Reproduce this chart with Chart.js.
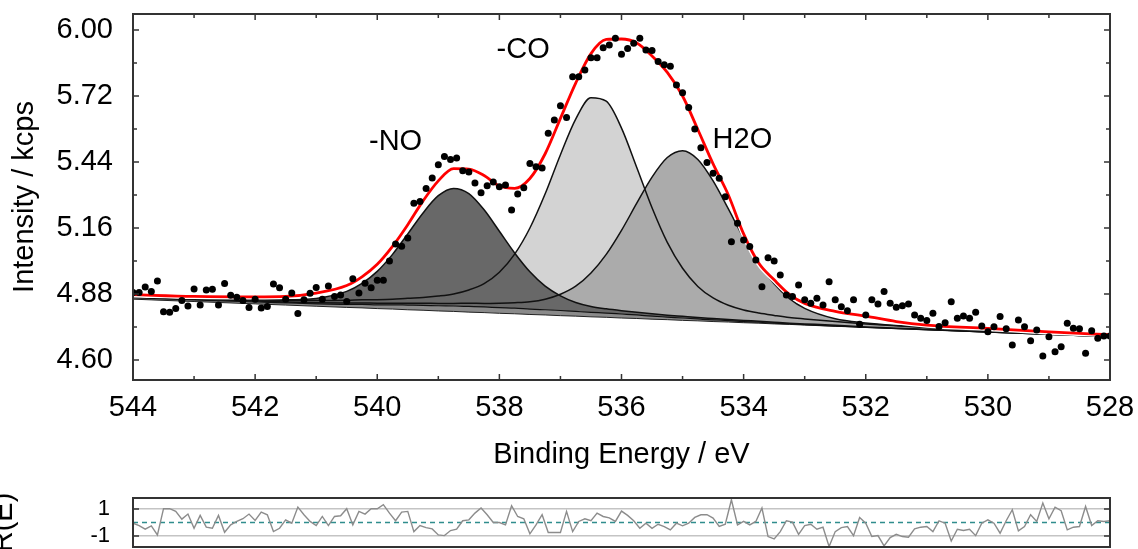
<!DOCTYPE html>
<html>
<head>
<meta charset="utf-8">
<script src="https://cdn.jsdelivr.net/npm/chart.js@4.4.1/dist/chart.umd.min.js"></script>
<style>
  html, body { margin: 0; padding: 0; background: #fff; }
  #wrap { position: relative; width: 1138px; height: 549px; overflow: hidden; }
  #main { position: absolute; left: 0; top: 0; }
  #resid { position: absolute; left: 0; top: 480px; }
</style>
</head>
<body>
<div id="wrap">
  <canvas id="main" width="1138" height="480"></canvas>
  <canvas id="resid" width="1138" height="69"></canvas>
</div>
<script>
const FONT = "'Liberation Sans', Arial, Helvetica, sans-serif";

// measured points (kcps), one every 0.1 eV
const dataEnergy = [
  544.0, 543.9, 543.8, 543.7, 543.6, 543.5, 543.4, 543.3, 543.2, 543.1,
  543.0, 542.9, 542.8, 542.7, 542.6, 542.5, 542.4, 542.3, 542.2, 542.1,
  542.0, 541.9, 541.8, 541.7, 541.6, 541.5, 541.4, 541.3, 541.2, 541.1,
  541.0, 540.9, 540.8, 540.7, 540.6, 540.5, 540.4, 540.3, 540.2, 540.1,
  540.0, 539.9, 539.8, 539.7, 539.6, 539.5, 539.4, 539.3, 539.2, 539.1,
  539.0, 538.9, 538.8, 538.7, 538.6, 538.5, 538.4, 538.3, 538.2, 538.1,
  538.0, 537.9, 537.8, 537.7, 537.6, 537.5, 537.4, 537.3, 537.2, 537.1,
  537.0, 536.9, 536.8, 536.7, 536.6, 536.5, 536.4, 536.3, 536.2, 536.1,
  536.0, 535.9, 535.8, 535.7, 535.6, 535.5, 535.4, 535.3, 535.2, 535.1,
  535.0, 534.9, 534.8, 534.7, 534.6, 534.5, 534.4, 534.3, 534.2, 534.1,
  534.0, 533.9, 533.8, 533.7, 533.6, 533.5, 533.4, 533.3, 533.2, 533.1,
  533.0, 532.9, 532.8, 532.7, 532.6, 532.5, 532.4, 532.3, 532.2, 532.1,
  532.0, 531.9, 531.8, 531.7, 531.6, 531.5, 531.4, 531.3, 531.2, 531.1,
  531.0, 530.9, 530.8, 530.7, 530.6, 530.5, 530.4, 530.3, 530.2, 530.1,
  530.0, 529.9, 529.8, 529.7, 529.6, 529.5, 529.4, 529.3, 529.2, 529.1,
  529.0, 528.9, 528.8, 528.7, 528.6, 528.5, 528.4, 528.3, 528.2, 528.1,
  528.0
];
const dataIntensity = [
  4.886, 4.886, 4.910, 4.891, 4.935, 4.805, 4.802, 4.818, 4.852, 4.829,
  4.901, 4.833, 4.897, 4.900, 4.833, 4.924, 4.875, 4.866, 4.852, 4.823,
  4.858, 4.820, 4.827, 4.922, 4.906, 4.858, 4.884, 4.797, 4.855, 4.883,
  4.908, 4.858, 4.914, 4.869, 4.876, 4.848, 4.945, 4.884, 4.925, 4.906,
  4.938, 4.938, 5.020, 5.092, 5.082, 5.118, 5.265, 5.272, 5.328, 5.372,
  5.428, 5.463, 5.451, 5.457, 5.403, 5.398, 5.351, 5.310, 5.339, 5.355,
  5.335, 5.342, 5.236, 5.304, 5.331, 5.434, 5.420, 5.415, 5.562, 5.618,
  5.679, 5.629, 5.802, 5.802, 5.830, 5.882, 5.882, 5.925, 5.936, 5.965,
  5.897, 5.922, 5.944, 5.965, 5.915, 5.913, 5.866, 5.853, 5.846, 5.767,
  5.734, 5.671, 5.580, 5.501, 5.438, 5.392, 5.371, 5.293, 5.102, 5.180,
  5.109, 5.081, 5.024, 4.911, 5.034, 5.020, 4.961, 4.876, 4.869, 4.918,
  4.855, 4.841, 4.862, 4.833, 4.932, 4.855, 4.826, 4.809, 4.855, 4.752,
  4.791, 4.855, 4.838, 4.890, 4.841, 4.824, 4.830, 4.838, 4.791, 4.777,
  4.767, 4.798, 4.742, 4.758, 4.847, 4.777, 4.787, 4.777, 4.802, 4.744,
  4.720, 4.741, 4.784, 4.732, 4.664, 4.770, 4.741, 4.682, 4.727, 4.617,
  4.699, 4.635, 4.656, 4.756, 4.735, 4.732, 4.628, 4.724, 4.692, 4.702,
  4.702
];
const residual = [
  -0.05, -0.23, -0.50, -0.25, -0.93, 1.03, 1.03, 0.83, 0.25, 0.63,
  -0.43, 0.53, -0.35, -0.43, 0.53, -0.73, -0.18, 0.08, 0.28, 0.63,
  0.15, 0.78, 0.58, -0.68, -0.43, 0.20, -0.05, 1.15, 0.58, 0.08,
  -0.23, 0.45, -0.23, 0.45, 0.50, 1.03, -0.18, 0.83, 0.63, 1.03,
  1.03, 1.33, 0.70, 0.13, 0.78, 0.83, -0.68, -0.23, -0.38, -0.48,
  -0.93, -0.98, -0.60, -0.50, 0.13, 0.20, 0.70, 1.08, 0.58, 0.00,
  0.00, -0.18, 1.25, 0.45, 0.28, -0.85, -0.18, 0.58, -0.75, -0.75,
  -0.75, 0.83, -0.68, 0.08, 0.28, 0.13, 0.70, 0.45, 0.35, 0.08,
  0.85, 0.53, 0.13, -0.43, -0.05, -0.43, -0.13, -0.30, -0.55, -0.05,
  -0.25, -0.05, 0.38, 0.58, 0.58, 0.33, -0.30, -0.13, 1.70, -0.18,
  0.08, -0.18, 0.08, 1.08, -1.05, -1.23, -0.68, 0.13, 0.03, -0.88,
  -0.23, -0.13, -0.50, -0.35, -1.80, -0.68, -0.38, -0.30, -0.98, 0.38,
  -0.05, -1.05, -0.98, -1.75, -1.13, -0.88, -1.05, -1.10, -0.48, -0.35,
  -0.30, -0.68, 0.13, -0.05, -1.38, -0.50, -0.60, -0.50, -0.98, -0.05,
  0.20, -0.05, -0.80, 0.13, 0.95, -0.63, -0.30, 0.58, 0.08, 1.45,
  0.28, 1.15, 0.88, -0.55, -0.35, -0.30, 1.20, -0.23, 0.13, 0.08,
  0.13
];

// fitted curves
const fitEnergy = [
  544, 543, 542, 541.5, 541, 540.5, 540.25, 540, 539.75, 539.5, 539.25,
  539, 538.75, 538.5, 538.25, 538, 537.75, 537.5, 537.25, 537, 536.75,
  536.5, 536.25, 536, 535.75, 535.5, 535.25, 535, 534.75, 534.5, 534.25,
  534, 533.75, 533.5, 533.25, 533, 532.5, 532, 531.5, 531, 530, 529, 528
];
const backgroundLow = [
  4.858, 4.848, 4.838, 4.833, 4.828, 4.823, 4.821, 4.818, 4.816, 4.813, 4.811,
  4.808, 4.806, 4.803, 4.801, 4.798, 4.796, 4.793, 4.791, 4.788, 4.786,
  4.783, 4.781, 4.778, 4.776, 4.773, 4.771, 4.768, 4.766, 4.763, 4.761,
  4.758, 4.756, 4.753, 4.751, 4.748, 4.743, 4.738, 4.733, 4.728, 4.718, 4.708, 4.698
];
const backgroundHigh = [
  4.864, 4.855, 4.846, 4.842, 4.838, 4.836, 4.836, 4.834, 4.834, 4.833, 4.832,
  4.830, 4.829, 4.827, 4.825, 4.822, 4.820, 4.816, 4.813, 4.810, 4.806,
  4.802, 4.799, 4.795, 4.791, 4.786, 4.782, 4.778, 4.774, 4.770, 4.767,
  4.763, 4.760, 4.756, 4.753, 4.750, 4.744, 4.738, 4.733, 4.728, 4.718, 4.708, 4.698
];
const peakNO = [
  4.868, 4.861, 4.855, 4.855, 4.861, 4.891, 4.925, 4.976, 5.048, 5.135, 5.224,
  5.297, 5.328, 5.306, 5.237, 5.146, 5.054, 4.974, 4.913, 4.872, 4.844,
  4.827, 4.817, 4.809, 4.802, 4.796, 4.790, 4.785, 4.780, 4.776, 4.772,
  4.768, 4.764, 4.760, 4.756, 4.753, 4.747, 4.740, 4.735, 4.730, 4.719, 4.709, 4.699
];
const peakCO = [
  4.869, 4.862, 4.855, 4.853, 4.852, 4.853, 4.855, 4.856, 4.858, 4.862, 4.865,
  4.871, 4.880, 4.897, 4.924, 4.972, 5.049, 5.160, 5.305, 5.471, 5.622,
  5.713, 5.698, 5.584, 5.417, 5.246, 5.099, 4.989, 4.912, 4.863, 4.832,
  4.812, 4.799, 4.789, 4.780, 4.774, 4.763, 4.753, 4.745, 4.738, 4.725, 4.713, 4.702
];
const peakH2O = [
  4.866, 4.858, 4.850, 4.846, 4.843, 4.842, 4.842, 4.841, 4.841, 4.841, 4.841,
  4.840, 4.840, 4.841, 4.840, 4.841, 4.843, 4.847, 4.858, 4.879, 4.913,
  4.969, 5.048, 5.150, 5.265, 5.376, 5.459, 5.488, 5.451, 5.360, 5.241,
  5.118, 5.009, 4.923, 4.860, 4.819, 4.775, 4.757, 4.746, 4.738, 4.725, 4.713, 4.702
];
const envelope = [
  4.877, 4.870, 4.868, 4.870, 4.884, 4.916, 4.953, 5.006, 5.082, 5.174, 5.275,
  5.360, 5.412, 5.410, 5.383, 5.338, 5.328, 5.370, 5.475, 5.625, 5.775,
  5.900, 5.960, 5.962, 5.945, 5.890, 5.820, 5.720, 5.578, 5.432, 5.300,
  5.135, 5.010, 4.940, 4.878, 4.840, 4.806, 4.786, 4.763, 4.748, 4.734, 4.719, 4.707
];

const xTicks = [544, 542, 540, 538, 536, 534, 532, 530, 528];
const xMinorTicks = [543, 541, 539, 537, 535, 533, 531, 529];
const yTicks = [4.60, 4.88, 5.16, 5.44, 5.72, 6.00];
const yMinorTicks = [4.74, 5.02, 5.30, 5.58, 5.86];
const residualTicks = [-1, 1];
const zeroEnergy = [544, 528];
const zeroLevel = [0, 0];

const peakLabels = ['-NO', '-CO', 'H2O'];
const labelEnergy = [539.70, 537.61, 534.02];
const labelIntensity = [5.525, 5.915, 5.533];

const pts = (xs, ys) => xs.map((x, i) => ({ x: x, y: ys[i] }));

Chart.defaults.font.family = FONT;
Chart.defaults.color = '#000';

// box round the plot with inward tick marks on every side
const framePlugin = {
  id: 'frame',
  afterDatasetsDraw(chart, args, opts) {
    const { ctx, chartArea: a } = chart;
    const sx = chart.scales.x, sy = chart.scales.y;
    ctx.save();
    ctx.strokeStyle = '#333';
    ctx.lineWidth = 1.5;
    ctx.beginPath();
    const xt = (vals, len) => vals.forEach(v => {
      const p = sx.getPixelForValue(v);
      ctx.moveTo(p, a.bottom); ctx.lineTo(p, a.bottom - len);
      ctx.moveTo(p, a.top); ctx.lineTo(p, a.top + len);
    });
    const yt = (vals, len) => vals.forEach(v => {
      const p = sy.getPixelForValue(v);
      ctx.moveTo(a.left, p); ctx.lineTo(a.left + len, p);
      ctx.moveTo(a.right, p); ctx.lineTo(a.right - len, p);
    });
    xt(opts.xMajor || [], 6);
    xt(opts.xMinor || [], 4);
    yt(opts.yMajor || [], 6);
    yt(opts.yMinor || [], 4);
    ctx.stroke();
    ctx.lineWidth = 2;
    ctx.strokeRect(a.left, a.top, a.right - a.left, a.bottom - a.top);
    ctx.restore();
  }
};

const labelPlugin = {
  id: 'peakLabels',
  afterDatasetsDraw(chart) {
    const { ctx } = chart;
    ctx.save();
    ctx.font = '29px ' + FONT;
    ctx.fillStyle = '#000';
    ctx.textAlign = 'center';
    ctx.textBaseline = 'middle';
    peakLabels.forEach((t, i) => {
      ctx.fillText(t, chart.scales.x.getPixelForValue(labelEnergy[i]),
                      chart.scales.y.getPixelForValue(labelIntensity[i]));
    });
    ctx.restore();
  }
};

const curve = (ys, color, width) => ({
  data: pts(fitEnergy, ys), borderColor: color, borderWidth: width,
  pointRadius: 0, fill: false, cubicInterpolationMode: 'monotone'
});
const area = (ys, color, target) => ({
  data: pts(fitEnergy, ys), borderWidth: 0, backgroundColor: color,
  pointRadius: 0, fill: target, cubicInterpolationMode: 'monotone'
});

new Chart(document.getElementById('main'), {
  type: 'line',
  data: {
    datasets: [
      { data: pts(dataEnergy, dataIntensity), showLine: false, pointRadius: 3.5,
        pointBorderWidth: 0, pointBackgroundColor: '#000', backgroundColor: '#000' },
      curve(envelope, '#ff0000', 2.8),
      curve(envelope, '#ffffff', 5.5),
      curve(peakNO, '#111', 1.5),
      curve(peakCO, '#111', 1.5),
      curve(peakH2O, '#111', 1.5),
      curve(backgroundHigh, '#111', 1.2),     // index 6
      curve(backgroundLow, '#222', 1),        // index 7
      area(peakNO, '#686868', 6),
      area(peakH2O, '#ababab', 6),
      area(peakCO, '#d3d3d3', 6),
      area(backgroundHigh, '#8a8a8a', 7)
    ]
  },
  options: {
    responsive: false,
    animation: false,
    devicePixelRatio: 1,
    layout: { padding: { left: 0, right: 28, top: 14, bottom: 0 } },
    plugins: {
      legend: { display: false },
      tooltip: { enabled: false },
      frame: { xMajor: xTicks, xMinor: xMinorTicks, yMajor: yTicks, yMinor: yMinorTicks }
    },
    scales: {
      x: {
        type: 'linear', reverse: true, min: 528, max: 544,
        afterBuildTicks: s => { s.ticks = xTicks.map(v => ({ value: v })); },
        afterFit: s => { s.height = 100; s.paddingLeft = 0; s.paddingRight = 0; },
        grid: { display: false, drawTicks: false },
        border: { display: false },
        ticks: { font: { size: 29 }, color: '#000', padding: 11, maxRotation: 0,
                 autoSkip: false, callback: v => String(v) },
        title: { display: true, text: 'Binding Energy / eV', font: { size: 29 },
                 color: '#000', padding: { top: 0, bottom: 8 } }
      },
      y: {
        min: 4.515, max: 6.068,
        afterBuildTicks: s => { s.ticks = yTicks.map(v => ({ value: v })); },
        afterFit: s => { s.width = 133; s.paddingTop = 0; s.paddingBottom = 0; },
        grid: { display: false, drawTicks: false },
        border: { display: false },
        ticks: { font: { size: 29 }, color: '#000', padding: 20,
                 callback: v => Number(v).toFixed(2) },
        title: { display: true, text: 'Intensity / kcps', font: { size: 29 },
                 color: '#000', padding: { top: 8, bottom: 0 } }
      }
    }
  },
  plugins: [framePlugin, labelPlugin]
});

// residual panel
new Chart(document.getElementById('resid'), {
  type: 'line',
  data: {
    datasets: [
      { data: pts(dataEnergy, residual), borderColor: '#8c8c8c', borderWidth: 1.4,
        pointRadius: 0, fill: false },
      { data: pts(zeroEnergy, zeroLevel), borderColor: '#2f8d8d', borderWidth: 1.3,
        borderDash: [5, 4], pointRadius: 0, fill: false }
    ]
  },
  options: {
    responsive: false,
    animation: false,
    devicePixelRatio: 1,
    layout: { padding: { left: 0, right: 28, top: 18, bottom: 2 } },
    plugins: {
      legend: { display: false },
      tooltip: { enabled: false },
      frame: { yMajor: residualTicks }
    },
    scales: {
      x: { type: 'linear', reverse: true, min: 528, max: 544, display: false },
      y: {
        min: -1.83, max: 1.83,
        afterBuildTicks: s => { s.ticks = residualTicks.map(v => ({ value: v })); },
        afterFit: s => { s.width = 133; s.paddingTop = 0; s.paddingBottom = 0; },
        grid: { color: '#c4c4c4', lineWidth: 1.5, drawTicks: false },
        border: { display: false },
        ticks: { font: { size: 22 }, color: '#000', padding: 23, callback: v => String(v) },
        title: { display: true, text: 'R(E)', font: { size: 29 }, color: '#000',
                 padding: { top: -13, bottom: 0 } }
      }
    }
  },
  plugins: [framePlugin]
});
</script>
</body>
</html>
